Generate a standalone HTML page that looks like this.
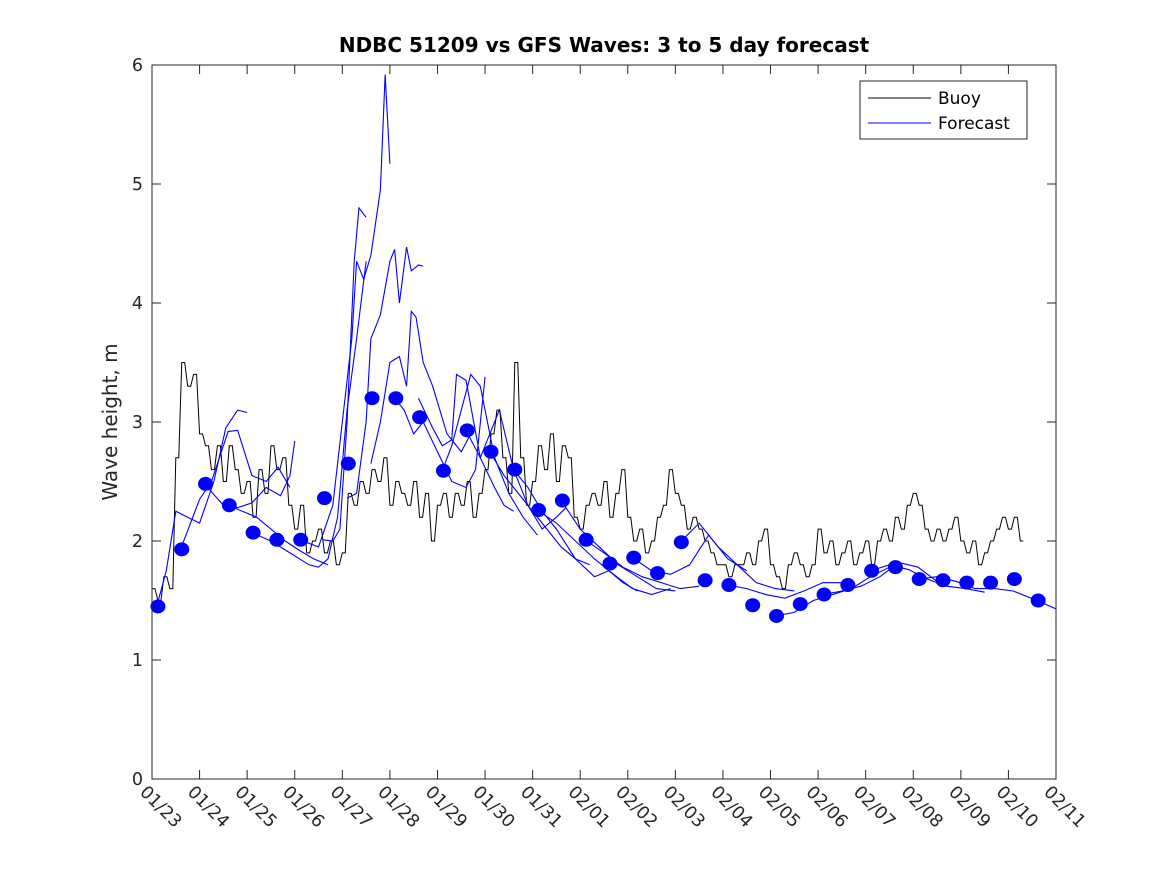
<!DOCTYPE html>
<html><head><meta charset="utf-8"><style>
html,body{margin:0;padding:0;background:#fff;}
svg{display:block;font-family:"DejaVu Sans","Liberation Sans",sans-serif;}
</style></head><body>
<svg id="chart" width="1167" height="875" viewBox="0 0 1167 875" xmlns="http://www.w3.org/2000/svg">
<rect width="1167" height="875" fill="#fff"/>
<text x="604" y="52" text-anchor="middle" font-size="20" font-weight="bold" fill="#000">NDBC 51209 vs GFS Waves: 3 to 5 day forecast</text>
<text transform="translate(117,422) rotate(-90)" text-anchor="middle" font-size="20" fill="#262626">Wave height, m</text>
<g id="grid"></g>
<g id="marks"></g>
<rect x="152" y="65" width="904" height="714" fill="none" stroke="#262626" stroke-width="1"/>
<g>
<rect x="860" y="81" width="167" height="58" fill="#fff" stroke="#262626" stroke-width="1"/>
<line x1="868" y1="98" x2="931" y2="98" stroke="#000"/>
<text x="938" y="104" font-size="17" fill="#000">Buoy</text>
<line x1="868" y1="123" x2="931" y2="123" stroke="#00f"/>
<text x="938" y="129" font-size="17" fill="#000">Forecast</text>
</g>
</svg>
<script>
const xTickLabels=["01/23","01/24","01/25","01/26","01/27","01/28","01/29","01/30","01/31","02/01","02/02","02/03","02/04","02/05","02/06","02/07","02/08","02/09","02/10","02/11"];
const yTickLabels=["0","1","2","3","4","5","6"];
const buoyStep=0.125;
const buoyValues=[
1.6,1.5,1.7,1.6,2.7,3.5,3.3,3.4,
2.9,2.8,2.6,2.8,2.5,2.8,2.6,2.4,
2.5,2.2,2.6,2.4,2.8,2.6,2.7,2.3,
2.1,2.3,1.9,2.0,2.1,1.9,2.0,1.8,
1.9,2.4,2.3,2.5,2.4,2.6,2.5,2.7,
2.3,2.5,2.4,2.3,2.5,2.2,2.4,2.0,
2.3,2.4,2.2,2.4,2.3,2.5,2.2,2.4,
2.6,2.9,3.1,2.7,2.4,3.5,2.7,2.3,
2.5,2.8,2.6,2.9,2.5,2.8,2.7,2.2,
2.1,2.3,2.4,2.3,2.5,2.2,2.4,2.6,
2.2,2.0,2.1,1.9,2.0,2.2,2.3,2.6,
2.4,2.3,2.1,2.2,2.1,2.0,1.9,1.8,
1.8,1.7,1.8,1.8,1.9,1.8,2.0,2.1,
1.8,1.7,1.6,1.8,1.9,1.8,1.7,1.8,
2.1,1.9,2.0,1.8,1.9,2.0,1.8,1.9,
2.0,1.8,2.0,2.1,2.0,2.2,2.1,2.3,
2.4,2.3,2.1,2.0,2.1,2.0,2.1,2.2,
2.0,1.9,2.0,1.8,1.9,2.0,2.1,2.2,
2.1,2.2,2.0];
const dotStart=0.125, dotStep=0.5;
const dotValues=[1.45,1.93,2.48,2.3,2.07,2.01,2.01,2.36,2.65,3.2,3.2,3.04,2.59,2.93,2.75,2.6,2.26,2.34,2.01,1.81,1.86,1.73,1.99,1.67,1.63,1.46,1.37,1.47,1.55,1.63,1.75,1.78,1.68,1.67,1.65,1.65,1.68,1.5];
const runDays=[
[0.1,0.3,0.5,0.75,1.0,1.3,1.55,1.8,2.0],
[0.6,1.0,1.25,1.6,1.8,2.1,2.4,2.65,2.9],
[1.1,1.5,1.8,2.1,2.4,2.7,2.9,3.0],
[1.6,1.9,2.2,2.5,2.8,3.1,3.4,3.7],
[2.1,2.5,2.9,3.3,3.5,3.7,3.9,4.1,4.3,4.5],
[3.1,3.5,3.8,4.0,4.2,4.3,4.45,4.6,4.8,4.9,5.0],
[3.6,3.8,3.95,4.1,4.25,4.35,4.5],
[4.1,4.3,4.5,4.6,4.8,5.0,5.1,5.2,5.35,5.45,5.6,5.7],
[4.6,4.8,5.0,5.2,5.35,5.45,5.55,5.7,5.9,6.2,6.5,6.7],
[5.1,5.3,5.5,5.7,6.0,6.3,6.6,6.8,7.0],
[5.6,5.9,6.1,6.3,6.4,6.6,6.9,7.2,7.4,7.6],
[6.1,6.3,6.5,6.7,6.9,7.2,7.5,7.8,8.1],
[6.6,6.9,7.1,7.3,7.6,7.9,8.2,8.5,8.7],
[7.1,7.4,7.7,8.0,8.3,8.6,8.9,9.2],
[7.6,7.9,8.2,8.5,8.9,9.3,9.6,9.9,10.2],
[8.1,8.5,8.9,9.3,9.7,10.1,10.5,10.9],
[8.6,9.0,9.4,9.8,10.2,10.6,11.0],
[9.1,9.5,9.9,10.3,10.7,11.1,11.5],
[10.1,10.5,10.9,11.3,11.7,12.1,12.5],
[11.1,11.5,11.9,12.3,12.7,13.1,13.5],
[12.1,12.5,12.9,13.3,13.7,14.1,14.5],
[13.1,13.5,13.9,14.3,14.7,15.1,15.5],
[14.1,14.5,14.9,15.3,15.7,16.1,16.5],
[15.1,15.5,15.9,16.3,16.7,17.1,17.5],
[16.1,16.5,16.9,17.3,17.7,18.1,18.6,19.0]
];
const runValues=[
[1.45,1.75,2.25,2.2,2.15,2.5,2.95,3.1,3.08],
[1.93,2.35,2.5,2.92,2.93,2.55,2.5,2.62,2.45],
[2.48,2.3,2.28,2.32,2.45,2.38,2.55,2.84],
[2.3,2.25,2.2,2.1,2.0,1.92,1.85,1.8],
[2.07,2.0,1.9,1.8,1.78,1.85,2.2,3.1,3.7,4.35],
[2.01,1.95,2.3,3.0,3.7,4.35,4.2,4.4,4.95,5.92,5.17],
[2.01,2.0,2.1,3.0,4.35,4.8,4.72],
[2.36,2.4,3.0,3.7,3.9,4.35,4.45,4.0,4.47,4.27,4.32,4.31],
[2.65,3.0,3.5,3.55,3.3,3.93,3.88,3.5,3.3,2.9,2.75,2.9],
[3.2,3.1,2.9,3.0,2.75,2.5,2.45,2.6,3.38],
[3.2,2.95,2.8,2.85,3.4,3.35,2.7,2.45,2.3,2.25],
[2.59,2.8,3.1,3.4,3.3,2.7,2.4,2.2,2.05],
[2.93,2.7,2.9,3.1,2.6,2.3,2.1,2.2,2.28],
[2.75,2.55,2.4,2.25,2.1,1.95,1.85,1.8],
[2.6,2.45,2.25,2.1,1.85,1.7,1.75,1.65,1.58],
[2.26,2.15,2.0,1.85,1.72,1.6,1.55,1.6],
[2.34,2.1,1.95,1.8,1.7,1.6,1.58],
[2.01,1.9,1.78,1.7,1.65,1.6,1.62],
[1.86,1.75,1.72,1.8,2.05,1.85,1.75],
[1.99,2.15,1.95,1.8,1.65,1.6,1.58],
[1.63,1.6,1.55,1.52,1.58,1.65,1.65],
[1.37,1.4,1.5,1.55,1.6,1.7,1.78],
[1.55,1.58,1.62,1.7,1.82,1.78,1.66],
[1.75,1.8,1.76,1.68,1.62,1.6,1.57],
[1.68,1.7,1.66,1.6,1.6,1.58,1.5,1.43]
];
const X0=152,X1=1056,Y0=779,Y1=65,XMAX=19,YMAX=6;
const NS="http://www.w3.org/2000/svg";
function xs(d){return X0+(X1-X0)*d/XMAX;}
function ys(v){return Y0-(Y0-Y1)*v/YMAX;}
function mk(tag,attrs,parent){const e=document.createElementNS(NS,tag);for(const k in attrs)e.setAttribute(k,attrs[k]);parent.appendChild(e);return e;}
const grid=document.getElementById('grid'),marks=document.getElementById('marks');
xTickLabels.forEach((lab,i)=>{
  const x=xs(i);
  if(i>0&&i<xTickLabels.length-1){
    const t1=mk('line',{x1:x,y1:Y0,x2:x,y2:Y0-9,stroke:'#262626'},grid);
    
    
    const t2=mk('line',{x1:x,y1:Y1,x2:x,y2:Y1+9,stroke:'#262626'},grid);
    
    
  }
  const t=mk('text',{transform:`translate(${x-13},${Y0+14}) rotate(45)`,'font-size':17.5,fill:'#262626'},grid);
  t.textContent=lab;
  
  
});
yTickLabels.forEach((lab,i)=>{
  const y=ys(i);
  if(i>0&&i<yTickLabels.length-1){
    const a=mk('line',{x1:X0,y1:y,x2:X0+9,y2:y,stroke:'#262626'},grid);
    
    
    const b=mk('line',{x1:X1,y1:y,x2:X1-9,y2:y,stroke:'#262626'},grid);
    
    
  }
  const t=mk('text',{x:X0-9,y:y+6,'text-anchor':'end','font-size':17.5,fill:'#262626'},grid);
  t.textContent=lab;
  
  
});
let pts=[];
buoyValues.forEach((v,i)=>{pts.push(xs(i*buoyStep)+','+ys(v));pts.push(xs((i+0.5)*buoyStep)+','+ys(v));});
const bl=mk('polyline',{points:pts.join(' '),fill:'none',stroke:'#000','stroke-width':1},marks);


runDays.forEach((days,r)=>{
  const p=days.map((d,i)=>xs(d)+','+ys(runValues[r][i])).join(' ');
  const l=mk('polyline',{points:p,fill:'none',stroke:'#00f','stroke-width':1.1},marks);
  
  
});
dotValues.forEach((v,i)=>{
  const c=mk('ellipse',{cx:xs(dotStart+i*dotStep),cy:ys(v),rx:7.5,ry:7,fill:'#00f'},marks);
  
  
});
</script>
</body></html>
